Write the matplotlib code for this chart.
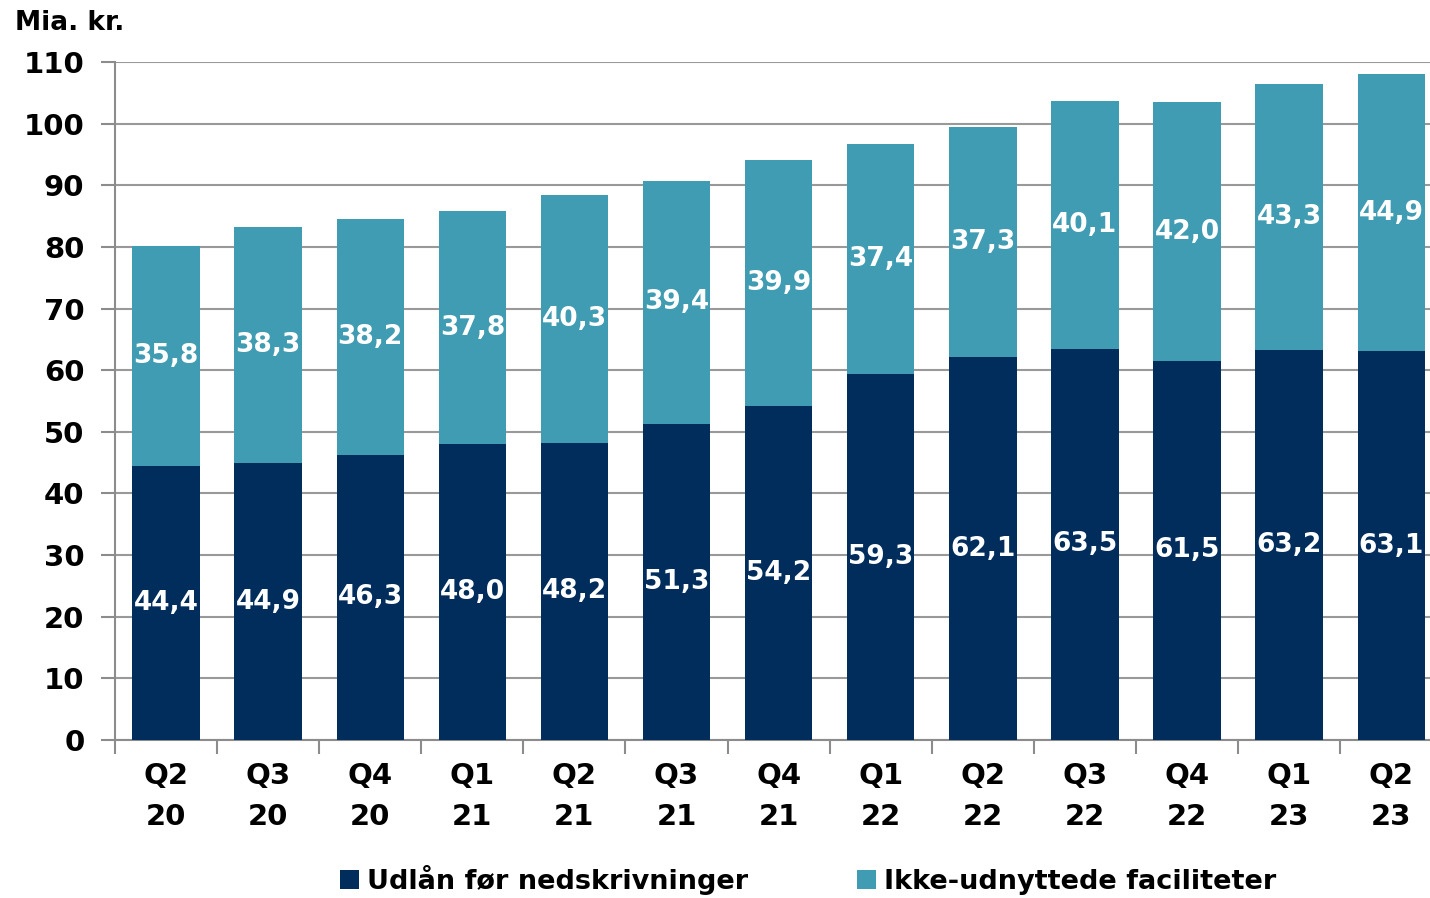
import matplotlib
matplotlib.use("Agg")
import matplotlib.pyplot as plt
import numpy as np

# data
quarters = ["Q2\n20", "Q3\n20", "Q4\n20", "Q1\n21", "Q2\n21", "Q3\n21", "Q4\n21",
            "Q1\n22", "Q2\n22", "Q3\n22", "Q4\n22", "Q1\n23", "Q2\n23"]
udlaan = [44.4, 44.9, 46.3, 48.0, 48.2, 51.3, 54.2, 59.3, 62.1, 63.5, 61.5, 63.2, 63.1]
ikke_udnyttet = [35.8, 38.3, 38.2, 37.8, 40.3, 39.4, 39.9, 37.4, 37.3, 40.1, 42.0, 43.3, 44.9]

navy = "#002D5C"
teal = "#409CB2"

plt.rcParams['font.family'] = ['DejaVu Sans']
plt.rcParams['font.weight'] = 'bold'

fig = plt.figure(figsize=(14.3, 8.98), dpi=100)
ax = fig.add_axes([115/1430, 1 - 740/898, (1430 - 115)/1430, (740 - 62)/898])

x = np.arange(len(quarters))
w = 0.66
ax.bar(x, udlaan, w, color=navy, label="Udlån før nedskrivninger", zorder=3)
ax.bar(x, ikke_udnyttet, w, bottom=udlaan, color=teal, label="Ikke-udnyttede faciliteter", zorder=3)

def fmt(v):
    return f"{v:.1f}".replace(".", ",")

for i in range(len(x)):
    ax.text(x[i], udlaan[i] / 2, fmt(udlaan[i]), ha="center", va="center",
            color="white", fontsize=19, fontweight="bold", zorder=4)
    ax.text(x[i], udlaan[i] + ikke_udnyttet[i] / 2, fmt(ikke_udnyttet[i]), ha="center",
            va="center", color="white", fontsize=19, fontweight="bold", zorder=4)

ax.set_yticks(range(0, 111, 10))
ax.set_xticks(x)
ax.set_xticklabels(quarters, fontsize=21, fontweight="bold", linespacing=1.6)
ax.set_xticks(np.arange(-0.5, 12.6, 1), minor=True)
ax.tick_params(axis="x", which="major", length=0, pad=16)
ax.tick_params(axis="x", which="minor", length=10, color="#8c8c8c", width=1.5)
ax.tick_params(axis="y", labelsize=21, length=10, color="#8c8c8c", width=1.5, pad=12)
for t in ax.get_yticklabels():
    t.set_fontweight("bold")
# limits last, set_xticks would widen them
ax.set_ylim(0, 110)
ax.set_xlim(-0.5, 12.38)

ax.grid(axis="y", color="#999999", linewidth=1.5, zorder=0)
for s in ["top", "right"]:
    ax.spines[s].set_visible(False)
for s in ["left", "bottom"]:
    ax.spines[s].set_color("#8c8c8c")
    ax.spines[s].set_linewidth(1.5)

fig.text(15/1430, 1 - 23/898, "Mia. kr.", fontsize=19, fontweight="bold", va="center", ha="left")

fig.legend(loc="center", bbox_to_anchor=(808/1430, 1 - 880/898), ncol=2, frameon=False,
           handlelength=0.7, handleheight=0.7, columnspacing=4.0,
           handletextpad=0.3, prop={"weight": "bold", "size": 19.5})

fig.savefig("out.png", dpi=100)
